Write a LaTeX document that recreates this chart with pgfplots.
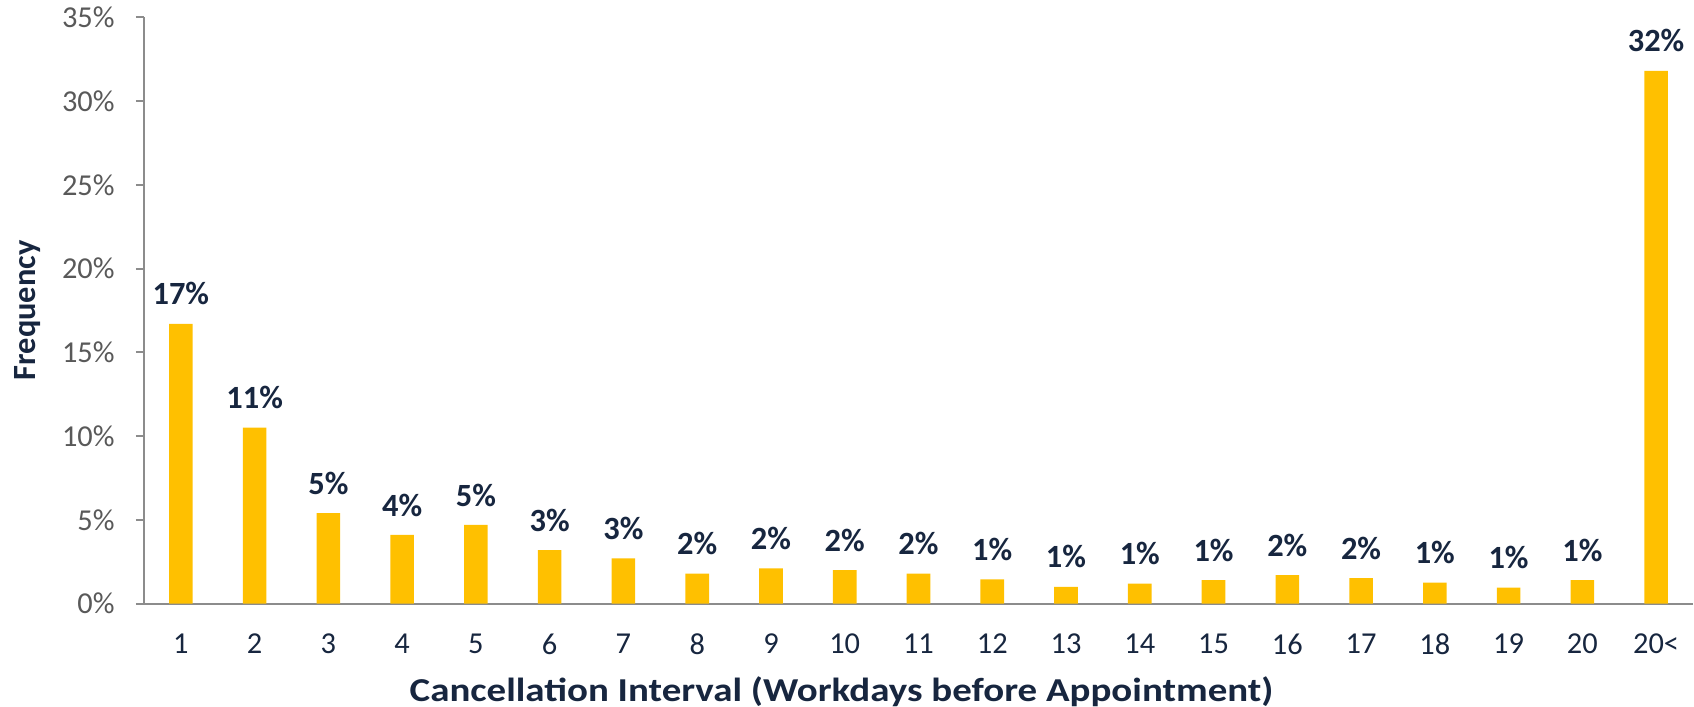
\documentclass[border=0pt]{standalone}
\usepackage{pgfplots}
\pgfplotsset{compat=1.18}
\usepackage{pgfplotstable}
\usepackage{graphicx}
\usepackage{fontspec}
\setmainfont{Carlito}
\definecolor{bar}{HTML}{FFC000}
\definecolor{navy}{HTML}{17263F}
\definecolor{tickgray}{HTML}{595959}
\definecolor{axgray}{HTML}{8C8C8C}
\pgfplotstableread{
x y lab
0 16.7 17\%
1 10.5 11\%
2 5.4 5\%
3 4.1 4\%
4 4.7 5\%
5 3.2 3\%
6 2.7 3\%
7 1.8 2\%
8 2.1 2\%
9 2.0 2\%
10 1.8 2\%
11 1.45 1\%
12 1.0 1\%
13 1.2 1\%
14 1.4 1\%
15 1.7 2\%
16 1.52 2\%
17 1.25 1\%
18 0.95 1\%
19 1.4 1\%
20 31.8 32\%
}\datatable
\begin{document}
\begin{tikzpicture}
\begin{axis}[
  scale only axis,
  width=764.7pt, height=289.5pt,
  xmin=-0.5, xmax=20.5,
  ymin=0, ymax=35,
  ytick={0,5,...,35},
  yticklabel={\pgfmathprintnumber{\tick}\%},
  /pgf/number format/assume math mode=true,
  xtick={0,...,20},
  xticklabels={1,2,3,4,5,6,7,8,9,10,11,12,13,14,15,16,17,18,19,20,20<},
  minor xtick={-0.5,0.5,...,20.5},
  axis x line*=bottom,
  axis y line*=left,
  axis line style={axgray, line width=1pt, -},
  tick align=outside,
  major tick length=4pt,
  minor tick length=5pt,
  xtick style={draw=none},
  minor x tick style={axgray, line width=1pt},
  ytick style={axgray, line width=1pt},
  x tick label style={font=\fontsize{15}{18}\selectfont, text=navy, yshift=-7.5pt},
  y tick label style={font=\fontsize{15}{18}\selectfont, text=tickgray, xshift=-7pt},
  xlabel={\scalebox{1.165}[1]{\textbf{Cancellation Interval (Workdays before Appointment)}}},
  ylabel={\textbf{Frequency}},
  xlabel style={font=\fontsize{16.5}{19}\selectfont, text=navy, inner xsep=2pt, inner ysep=0pt, yshift=-7.1pt, xshift=-38pt},
  ylabel style={font=\fontsize{16}{19}\selectfont, text=navy, inner sep=7pt, yshift=0.2pt},
  clip=false,
]
\addplot[ybar, bar width=0.32, fill=bar, draw=none,
  point meta=explicit symbolic,
  nodes near coords,
  every node near coord/.append style={font=\fontsize{16}{19}\selectfont\bfseries, text=navy, inner sep=0pt, anchor=south, yshift=9pt}]
  table[x=x, y=y, meta=lab] {\datatable};
\end{axis}
\end{tikzpicture}
\end{document}
